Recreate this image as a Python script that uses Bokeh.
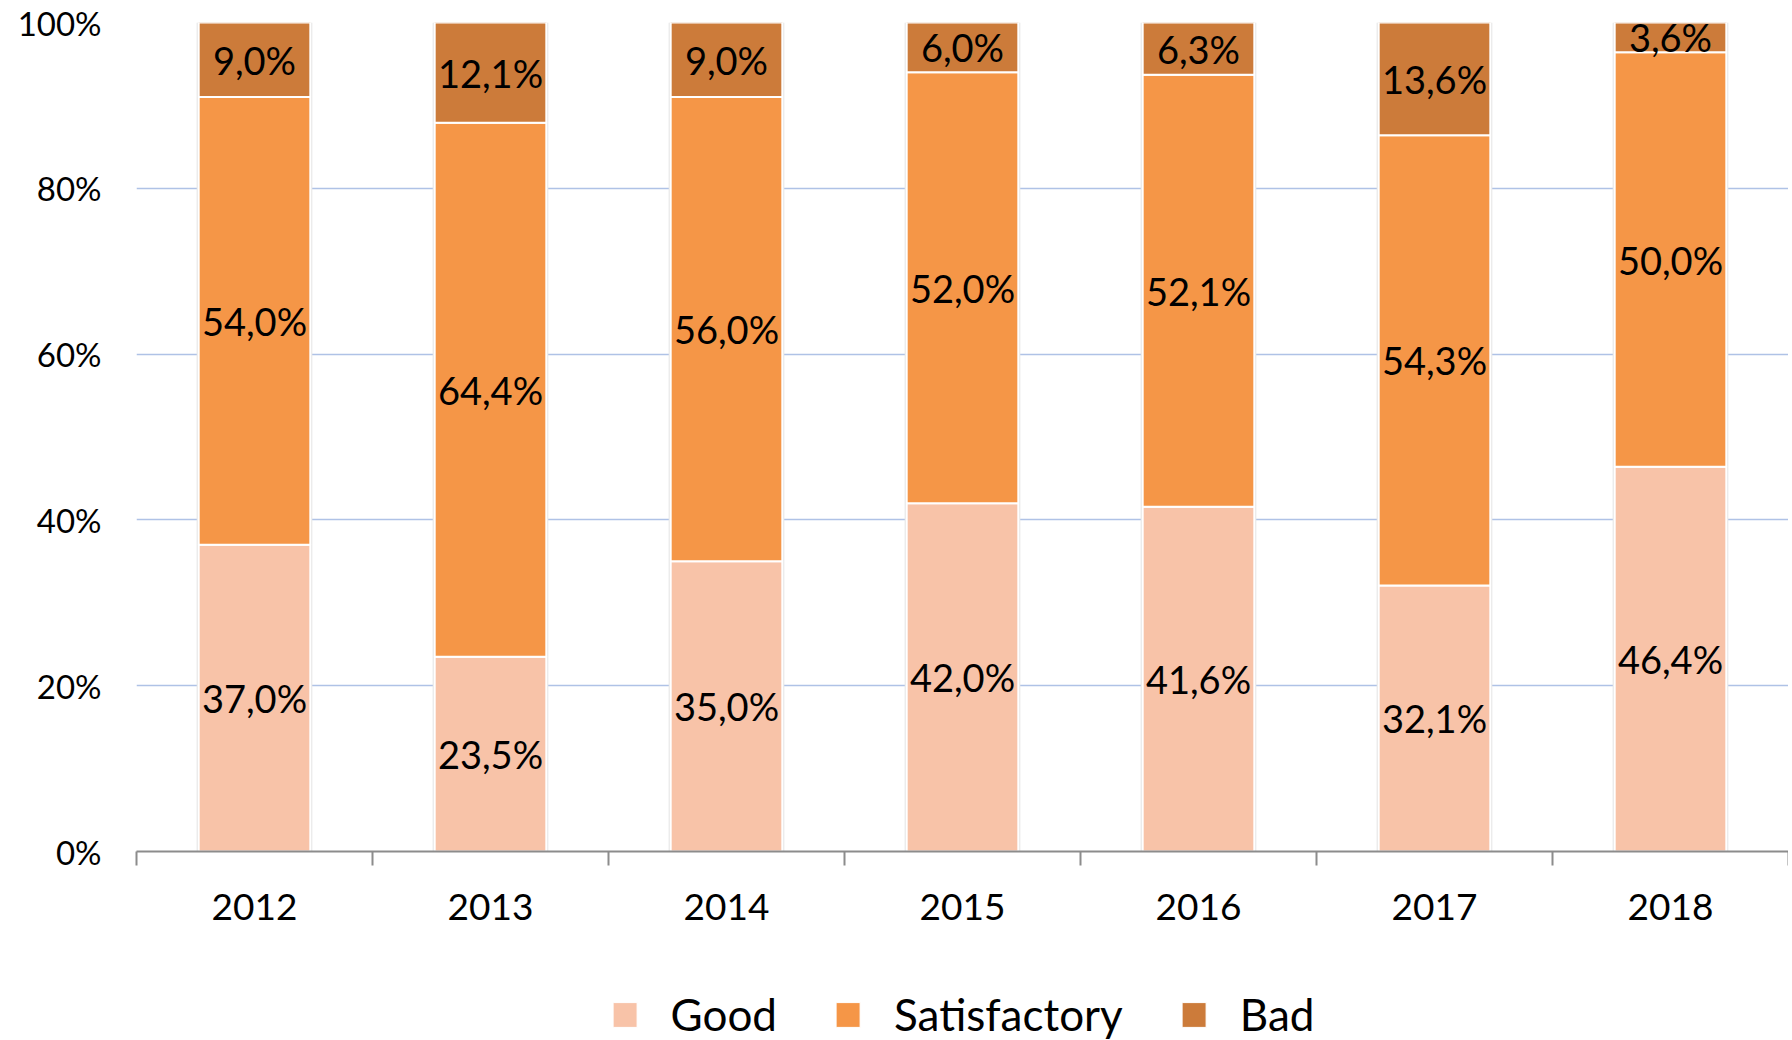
from bokeh.plotting import figure
from bokeh.layouts import column
from bokeh.models import (Range1d, FixedTicker, PrintfTickFormatter, ColumnDataSource,
                          Legend, LegendItem)
from bokeh.core.properties import value
from bokeh.embed import file_html
from bokeh.resources import INLINE

years = ["2012", "2013", "2014", "2015", "2016", "2017", "2018"]
good = [37.0, 23.5, 35.0, 42.0, 41.6, 32.1, 46.4]
satisfactory = [54.0, 64.4, 56.0, 52.0, 52.1, 54.3, 50.0]
bad = [9.0, 12.1, 9.0, 6.0, 6.3, 13.6, 3.6]
series_names = ["Good", "Satisfactory", "Bad"]
colors = ["#F8C3A8", "#F59647", "#CC7B3A"]
y_ticks = [0, 20, 40, 60, 80, 100]

FONT = "Lato"
n = len(years)
xc = [i + 0.5 for i in range(n)]

p = figure(frame_width=1652, frame_height=829, output_backend="svg", toolbar_location=None,
           x_range=Range1d(0, n), y_range=Range1d(0, 100),
           min_border_left=136, min_border_right=0, min_border_top=22,
           min_border_bottom=80)
p.outline_line_color = None
p.background_fill_color = "white"
p.border_fill_color = "white"

# grid
p.xgrid.grid_line_color = None
p.ygrid.ticker = FixedTicker(ticks=y_ticks)
p.ygrid.grid_line_color = "#AFC2E6"
p.ygrid.grid_line_width = 1.5

# y axis
p.yaxis.ticker = FixedTicker(ticks=y_ticks)
p.yaxis.formatter = PrintfTickFormatter(format="%d%%")
p.yaxis.axis_line_color = None
p.yaxis.major_tick_line_color = None
p.yaxis.minor_tick_line_color = None
p.yaxis.major_label_standoff = 29
p.yaxis.major_label_text_font = FONT
p.yaxis.major_label_text_font_size = "33px"
p.yaxis.major_label_text_color = "black"

# x axis: labels at centres, ticks at boundaries (minor ticks)
p.xaxis.ticker = FixedTicker(ticks=xc, minor_ticks=list(range(n + 1)))
p.xaxis.major_label_overrides = {x: y for x, y in zip(xc, years)}
p.xaxis.axis_line_color = "#8C8C8C"
p.xaxis.axis_line_width = 2
p.xaxis.major_tick_line_color = None
p.xaxis.major_tick_out = 0
p.xaxis.major_tick_in = 0
p.xaxis.minor_tick_line_color = "#8C8C8C"
p.xaxis.minor_tick_line_width = 2
p.xaxis.minor_tick_out = 14
p.xaxis.minor_tick_in = 0
p.xaxis.major_label_standoff = 28
p.xaxis.major_label_text_font = FONT
p.xaxis.major_label_text_font_size = "37px"
p.xaxis.major_label_text_color = "black"

# shadow behind bars
totals = [g + s + b for g, s, b in zip(good, satisfactory, bad)]
p.vbar(x=xc, bottom=0, top=totals, width=0.49, fill_color="#E4E4E4", line_color=None)

src = ColumnDataSource(dict(x=xc, good=good, satisfactory=satisfactory, bad=bad))
p.vbar_stack(["good", "satisfactory", "bad"], x="x", width=0.473, source=src,
             color=colors, line_color="white", line_width=2)

# labels
lx, ly, lt = [], [], []
for i in range(n):
    base = 0.0
    for v in (good[i], satisfactory[i], bad[i]):
        lx.append(xc[i])
        ly.append(base + v / 2)
        lt.append(f"{v:.1f}".replace(".", ",") + "%")
        base += v
p.text(x=lx, y=ly, text=lt, text_align="center", text_baseline="middle",
       text_font=value(FONT), text_font_size="38px", text_color="black")

# legend strip below the chart (series renderers kept out of its visible range)
leg = figure(width=1788, height=109, output_backend="svg", toolbar_location=None,
             x_range=Range1d(0, n), y_range=Range1d(500, 501),
             x_axis_type=None, y_axis_type=None,
             min_border_left=50, min_border_right=0, min_border_top=0, min_border_bottom=0)
leg.outline_line_color = None
leg.xgrid.grid_line_color = None
leg.ygrid.grid_line_color = None
leg_r = leg.vbar_stack(["good", "satisfactory", "bad"], x="x", width=0.473, source=src,
                       color=colors, line_color="white", line_width=1)
legend = Legend(items=[LegendItem(label=nm, renderers=[r]) for nm, r in zip(series_names, leg_r)],
                orientation="horizontal", location="bottom_center",
                glyph_width=30, glyph_height=31, label_standoff=31, spacing=56,
                label_text_font=FONT, label_text_font_size="44px", label_text_color="black",
                border_line_color=None, background_fill_alpha=0, padding=0, margin=0)
leg.add_layout(legend, "center")

layout = column(p, leg, spacing=0)
open("out.html", "w").write(file_html(layout, INLINE))
